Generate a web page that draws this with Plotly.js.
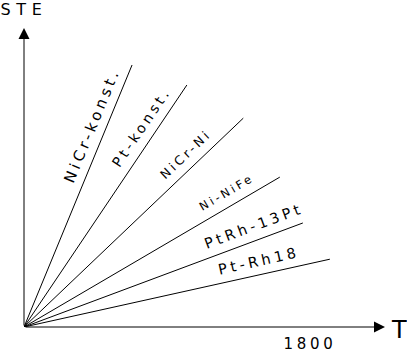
<!DOCTYPE html>
<html><head><meta charset="utf-8">
<script src="https://cdn.plot.ly/plotly-3.0.1.min.js"></script>
<style>
html,body{margin:0;padding:0;background:#fff;}
#chart text{letter-spacing:0.25em;}
#chart g.annotation[data-index="8"] text{letter-spacing:0.35em;}
#chart g.annotation[data-index="9"] text{letter-spacing:0;}
#chart g.xtick text{letter-spacing:0.25em;}
</style>
</head><body>
<div id="chart" style="width:407px;height:357px;"></div>
<script>
// Data (T in °C, STE in mV, approximate)
const names = ["NiCr-konst.", "Pt-konst.", "NiCr-Ni", "Ni-NiFe", "PtRh-13Pt", "Pt-Rh18"];
const tEnd = [680, 1025, 1380, 1610, 1755, 1925];
const steEnd = [68.0, 62.8, 54.2, 38.9, 27.0, 17.6];
const xTicks = [1800];
const xTickText = ["1800"];

// styles / layout
const W = 407, H = 357;
const M = {l: 24, r: 22, t: 28, b: 30};
const xMax = 2272, yMax = 77.6;
const labelT = [0.751, 0.793, 0.779, 0.821, 0.842, 0.776];
const labelSize = [15, 14, 12.5, 11.5, 14.5, 14.5];
const labelOff = 14;
const FONT = "'DejaVu Sans', sans-serif";

const pw = W - M.l - M.r, ph = H - M.t - M.b;
const sx = pw / xMax, sy = ph / yMax;

const traces = names.map((n, i) => ({
  type: 'scatter', mode: 'lines', name: n,
  x: [0, tEnd[i]], y: [0, steEnd[i]],
  line: {color: '#000', width: 1}, hoverinfo: 'skip', cliponaxis: false
}));

const ann = names.map((n, i) => {
  const dx = tEnd[i] * sx, dy = steEnd[i] * sy;
  const len = Math.hypot(dx, dy);
  const ang = Math.atan2(dy, dx) * 180 / Math.PI;
  const nx = -dy / len, ny = dx / len;
  return {
    x: tEnd[i] * labelT[i], y: steEnd[i] * labelT[i], xref: 'x', yref: 'y',
    text: n, showarrow: false, textangle: -ang,
    xshift: labelOff * nx, yshift: labelOff * ny,
    font: {family: FONT, size: labelSize[i], color: '#000'}
  };
});

// axis arrows
ann.push({x: xMax, y: 0, ax: 0, ay: 0, axref: 'x', ayref: 'y', xref: 'x', yref: 'y',
  showarrow: true, arrowhead: 2, arrowsize: 2.2, arrowwidth: 1, arrowcolor: '#000', text: ''});
ann.push({x: 0, y: yMax, ax: 0, ay: 0, axref: 'x', ayref: 'y', xref: 'x', yref: 'y',
  showarrow: true, arrowhead: 2, arrowsize: 2.2, arrowwidth: 1, arrowcolor: '#000', text: ''});
ann.push({x: (24 - M.l) / pw, y: (H - 9 - M.b) / ph, xref: 'paper', yref: 'paper', text: 'STE', showarrow: false,
  xanchor: 'center', yanchor: 'middle', font: {family: FONT, size: 16, color: '#000'}});
ann.push({x: (399 - M.l) / pw, y: 0, xref: 'paper', yref: 'paper', text: 'T', showarrow: false,
  xanchor: 'center', yanchor: 'middle', yshift: -3, font: {family: FONT, size: 24, color: '#000'}});

const layout = {
  width: W, height: H, margin: M, showlegend: false,
  paper_bgcolor: '#fff', plot_bgcolor: '#fff',
  xaxis: {range: [0, xMax], showgrid: false, zeroline: false, showline: false,
    tickvals: xTicks, ticktext: xTickText, ticks: '', ticklen: 0, ticklabelstandoff: 6,
    tickfont: {family: FONT, size: 15, color: '#000'}, fixedrange: true},
  yaxis: {range: [0, yMax], showgrid: false, zeroline: false, showline: false,
    showticklabels: false, ticks: '', fixedrange: true},
  annotations: ann
};

Plotly.newPlot('chart', traces, layout, {staticPlot: true, displayModeBar: false});
</script>
</body></html>
